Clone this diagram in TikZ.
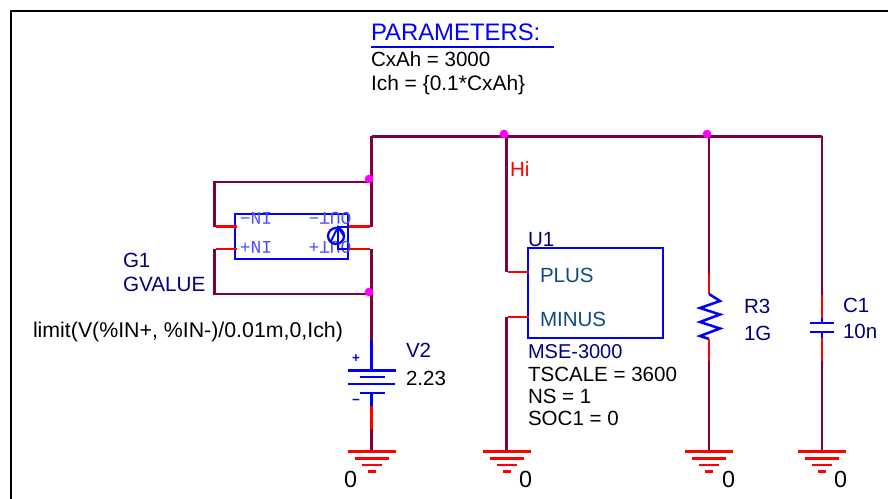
\documentclass[tikz,border=0pt]{standalone}
\usepackage{fontspec}
\setmainfont{Liberation Sans}
\newfontfamily\pinfont{Liberation Mono}
\definecolor{wirec}{HTML}{800040}
\definecolor{pinc}{HTML}{FF0000}
\definecolor{partc}{HTML}{0000FF}
\definecolor{refc}{HTML}{000080}
\definecolor{portc}{HTML}{104A80}
\definecolor{dotc}{HTML}{FF00FF}
\tikzset{
  wire/.style={draw=wirec,line width=1.7pt},
  pinw/.style={draw=pinc,line width=1.9pt},
  part/.style={draw=partc,line width=1.9pt},
  frame/.style={draw=black,line width=1.7pt},
  txt/.style={anchor=base west,inner sep=0pt,outer sep=0pt,font=\fontsize{15.4}{18}\selectfont},
  ref/.style={txt,text=refc},
  val/.style={txt,text=black},
  port/.style={txt,text=portc},
  zero/.style={txt,text=black,font=\fontsize{17.5}{20}\selectfont},
  pinlabel/.style={inner sep=0pt,text=partc!70,rotate=180,font=\pinfont\fontsize{13.4}{15}\selectfont},
  polarity/.style={inner sep=0pt,text=partc,font=\bfseries\fontsize{10}{11}\selectfont},
  junction/.style={circle,fill=dotc,inner sep=0pt,minimum size=6.5pt},
  gndpic/.pic={
    \draw[pinw] (-24,0) -- (24,0);
    \draw[pinw] (-17,6.7) -- (17,6.7);
    \draw[pinw] (-10,13.4) -- (10,13.4);
    \draw[pinw] (-4,20) -- (4,20);
  }
}
\begin{document}
\begin{tikzpicture}[x=.75pt,y=-.75pt]
\useasboundingbox (0,0) rectangle (888,499);
% frame
\coordinate (fa) at (11,499);
\coordinate (fb) at (11,11);
\coordinate (fc) at (888,11);
\draw[frame] (fa) -- (fb) -- (fc);
% parameters
\node[txt,text=partc,font=\fontsize{17.9}{20}\selectfont] (ptitle) at (371,41) {PARAMETERS:};
\coordinate (ula) at (371,47);
\coordinate (ulb) at (554,47);
\draw[part] (ula) -- (ulb);
\node[val] (pcx) at (371,67) {CxAh = 3000};
\node[val,font=\fontsize{15.7}{18}\selectfont] (pich) at (371,90.5) {Ich = \{0.1*CxAh\}};
% rail
\coordinate (r1) at (371.5,136.5);
\coordinate (r2) at (506.5,136.5);
\coordinate (r3) at (709,136.5);
\coordinate (r4) at (822,136.5);
% G1
\node[draw=partc,line width=1.9pt,minimum width=84.75pt,minimum height=33.75pt,inner sep=0pt] (g1) at (291.5,236.5) {};
\node[pinlabel] (lnin) at (256,218.5) {IN−};
\node[pinlabel] (lpin) at (256,247.5) {IN+};
\node[pinlabel] (lnout) at (330,218.5) {OUT−};
\node[pinlabel] (lpout) at (330,247.5) {OUT+};
\node[circle,draw=partc,line width=1.7pt,minimum size=12pt,inner sep=0pt] (src) at (336,236) {};
\coordinate (st) at (338,227);
\coordinate (sb) at (338,249);
\coordinate (sr1) at (348,227);
\coordinate (sr2) at (348,249);
\coordinate (al) at (331,241);
\coordinate (ar) at (344,236);
\draw[part] (sr1) -- (st) -- (sb) -- (sr2);
\draw[part,line width=1.5pt] (al) -- (st) -- (ar);
\coordinate (nl) at (214.5,226.5);
\coordinate (nli) at (237,226.5);
\coordinate (pl) at (214.5,249);
\coordinate (pli) at (237,249);
\coordinate (nlw) at (216,226.5);
\coordinate (plw) at (216,249);
\coordinate (nro) at (349,226.5);
\coordinate (nr) at (370,226.5);
\coordinate (nrw) at (371.5,226.5);
\coordinate (pro) at (349,249);
\coordinate (pr) at (370,249);
\coordinate (prw) at (371.5,249);
\coordinate (tl) at (214.5,182);
\coordinate (tr) at (371.5,182);
\coordinate (bl) at (214.5,294);
\coordinate (br) at (371.5,294);
\draw[wire] (r1) -- (r4);
\draw[wire] (r1) -- (nrw);
\draw[wire] (nl) -- (tl) -- (tr);
\draw[wire] (pl) -- (bl) -- (br);
\draw[pinw] (nlw) -- (nli);
\draw[pinw] (plw) -- (pli);
\draw[pinw] (nro) -- (nr);
\draw[pinw] (pro) -- (pr);
\node[ref] (lg1) at (123,267) {G1};
\node[ref,font=\fontsize{15.5}{18}\selectfont] (lgv) at (123,291) {GVALUE};
\node[val,font=\fontsize{16}{18}\selectfont] (lim) at (33,337) {limit(V(\%IN+, \%IN-)/0.01m,0,Ich)};
% V2
\coordinate (v0) at (371.5,249);
\coordinate (v1) at (371.5,340);
\coordinate (v2) at (371.5,370.5);
\coordinate (v3) at (371.5,393);
\coordinate (v4) at (371.5,406);
\coordinate (v5) at (371.5,429);
\coordinate (g0) at (371.5,451.7);
\draw[wire] (v0) -- (v1);
\draw[part] (v1) -- (v2);
\draw[part] (348,370.5) -- (396,370.5);
\draw[part] (360,377) -- (385,377);
\draw[part] (348,384) -- (395,384);
\draw[part] (360,393) -- (385,393);
\draw[part] (v3) -- (v4);
\draw[pinw] (v4) -- (v5);
\draw[wire] (v5) -- (g0);
\node[polarity] (vplus) at (356,359) {+};
\node[polarity] (vminus) at (356,402) {−};
\node[ref] (lv2) at (406,357) {V2};
\node[val] (lv223) at (406,385.5) {2.23};
\pic at (g0) {gndpic};
\node[zero] (z1) at (344,487) {0};
% U1
\node[draw=partc,line width=1.9pt,minimum width=101.25pt,minimum height=67.5pt,inner sep=0pt] (u1) at (595.5,293) {};
\coordinate (up) at (529,272);
\coordinate (uw) at (506.5,272);
\coordinate (upw) at (508,272);
\coordinate (um) at (529,317);
\coordinate (umw) at (506.5,317);
\coordinate (umr) at (508,317);
\coordinate (g2) at (506.5,451.7);
\draw[wire] (r2) -- (uw);
\draw[wire] (umw) -- (g2);
\draw[pinw] (upw) -- (up);
\draw[pinw] (umr) -- (um);
\node[txt,text=pinc] (lhi) at (510,176) {Hi};
\node[ref] (lu1) at (528,246) {U1};
\node[port] (lplus) at (540,282) {PLUS};
\node[port] (lminus) at (540,326) {MINUS};
\node[ref,font=\fontsize{15}{18}\selectfont] (lmse) at (528,358) {MSE-3000};
\node[val] (lts) at (528,381) {TSCALE = 3600};
\node[val] (lns) at (528,403) {NS = 1};
\node[val] (lsoc) at (528,425) {SOC1 = 0};
\pic at (g2) {gndpic};
\node[zero] (z2) at (519,487) {0};
% R3
\coordinate (ra) at (709,273);
\coordinate (rb) at (709,294);
\coordinate (rc) at (709,339);
\coordinate (rd) at (709,361);
\coordinate (g3) at (709,451.7);
\draw[wire] (r3) -- (ra);
\draw[pinw] (ra) -- (rb);
\draw[part,line join=miter] (rb) -- (720,301) -- (700,308) -- (720,314.5) -- (700,322) -- (720,328.5) -- (700,336) -- (rc);
\draw[pinw] (rc) -- (rd);
\draw[wire] (rd) -- (g3);
\node[ref] (lr3) at (744,313) {R3};
\node[ref] (lr1g) at (744,340) {1G};
\pic at (g3) {gndpic};
\node[zero] (z3) at (722,487) {0};
% C1
\coordinate (ca) at (822,295);
\coordinate (cb) at (822,318);
\coordinate (cc) at (822,323);
\coordinate (cd) at (822,332);
\coordinate (ce) at (822,338);
\coordinate (cf) at (822,361);
\coordinate (g4) at (822,451.7);
\draw[wire] (r4) -- (ca);
\draw[pinw] (ca) -- (cb);
\draw[part] (cb) -- (cc);
\draw[part] (810,323) -- (834,323);
\draw[part] (810,332) -- (834,332);
\draw[part] (cd) -- (ce);
\draw[pinw] (ce) -- (cf);
\draw[wire] (cf) -- (g4);
\node[ref] (lc1) at (843,312) {C1};
\node[ref] (lc10) at (843,338) {10n};
\pic at (g4) {gndpic};
\node[zero] (z4) at (834,487) {0};
% junctions
\node[junction] (j1) at (369,179) {};
\node[junction] (j2) at (369,292) {};
\node[junction] (j3) at (504,134) {};
\node[junction] (j4) at (707,134) {};
\end{tikzpicture}
\end{document}
